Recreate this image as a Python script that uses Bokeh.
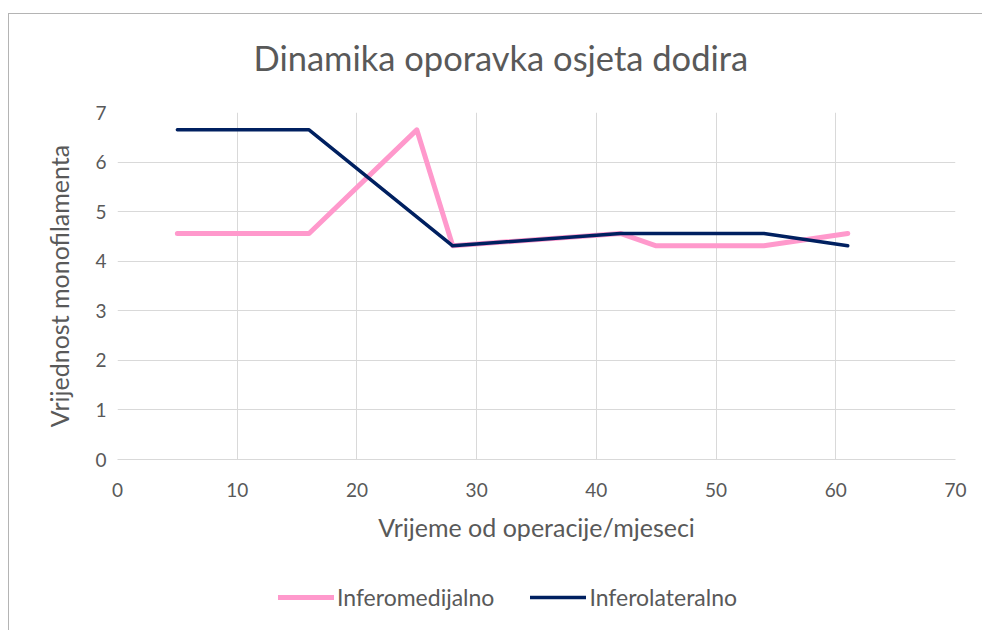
from bokeh.plotting import figure
from bokeh.layouts import column
from bokeh.models import Legend, LegendItem, Range1d, FixedTicker, Title
from bokeh.embed import file_html
from bokeh.resources import INLINE

# Data
med_x = [5, 16, 25, 28, 42, 45, 54, 61]
med_y = [4.56, 4.56, 6.65, 4.31, 4.56, 4.31, 4.31, 4.56]
lat_x = [5, 16, 28, 42, 54, 61]
lat_y = [6.65, 6.65, 4.31, 4.56, 4.56, 4.31]
x_ticks = [0, 10, 20, 30, 40, 50, 60, 70]
y_ticks = [0, 1, 2, 3, 4, 5, 6, 7]

FONT = "Lato"
GRAY = "#595959"
GRID = "#d9d9d9"
PINK = "#ff99cc"
NAVY = "#002060"

p = figure(width=973, height=545, output_backend="svg", toolbar_location=None,
           x_range=Range1d(0, 70), y_range=Range1d(0, 7),
           min_border_left=108, min_border_right=27, min_border_top=98, min_border_bottom=100)
p.outline_line_color = None

spacer = Title(text=" ", text_font_size="1px", standoff=32)
p.add_layout(spacer, "above")
t = Title(text="Dinamika oporavka osjeta dodira", align="left", offset=136,
          text_font=FONT, text_font_size="34.5px", text_font_style="normal",
          text_color=GRAY, standoff=0)
p.add_layout(t, "above")

p.xaxis.ticker = FixedTicker(ticks=x_ticks)
p.yaxis.ticker = FixedTicker(ticks=y_ticks)
p.xgrid.ticker = FixedTicker(ticks=x_ticks)
p.ygrid.ticker = FixedTicker(ticks=y_ticks)
p.xgrid.grid_line_color = GRID
p.ygrid.grid_line_color = GRID

for ax in (p.xaxis, p.yaxis):
    ax.major_tick_line_color = None
    ax.minor_tick_line_color = None
    ax.major_label_text_font = FONT
    ax.major_label_text_font_size = "19px"
    ax.major_label_text_color = GRAY
    ax.axis_label_text_font = FONT
    ax.axis_label_text_font_size = "25px"
    ax.axis_label_text_font_style = "normal"
    ax.axis_label_text_color = GRAY

p.xaxis.axis_line_color = GRID
p.yaxis.axis_line_color = None
p.xaxis.major_label_standoff = 17
p.yaxis.major_label_standoff = 5
p.xaxis.axis_label = "Vrijeme od operacije/mjeseci"
p.yaxis.axis_label = "Vrijednost monofilamenta"
p.xaxis.axis_label_standoff = 12
p.yaxis.axis_label_standoff = 18

p.line(med_x, med_y, line_color=PINK, line_width=5, line_join="round", line_cap="round")
p.line(lat_x, lat_y, line_color=NAVY, line_width=3.5, line_join="round", line_cap="round")

# legend strip below the chart
p2 = figure(width=973, height=71, output_backend="svg", toolbar_location=None,
            x_range=Range1d(0, 70), y_range=Range1d(100, 101),
            x_axis_location=None, y_axis_location=None, min_border=0)
p2.outline_line_color = None
p2.xgrid.visible = False
p2.ygrid.visible = False
l1 = p2.line(med_x, med_y, line_color=PINK, line_width=5, line_cap="round")
l2 = p2.line(lat_x, lat_y, line_color=NAVY, line_width=3.5, line_cap="round")

legend = Legend(items=[LegendItem(label="Inferomedijalno", renderers=[l1]),
                       LegendItem(label="Inferolateralno", renderers=[l2])],
                orientation="horizontal", location=(161, 19),
                label_text_font=FONT, label_text_font_size="23px", label_text_color=GRAY,
                glyph_width=56, glyph_height=28, label_height=28, label_standoff=3, spacing=36,
                padding=0, margin=0, border_line_color=None, background_fill_alpha=0)
p2.add_layout(legend, "center")

layout = column(p, p2, spacing=0,
                styles={"border-left": "1px solid #b4b4b4", "border-top": "1px solid #b4b4b4",
                        "margin-top": "13px", "margin-left": "8px"})

open("out.html", "w").write(file_html(layout, INLINE))
